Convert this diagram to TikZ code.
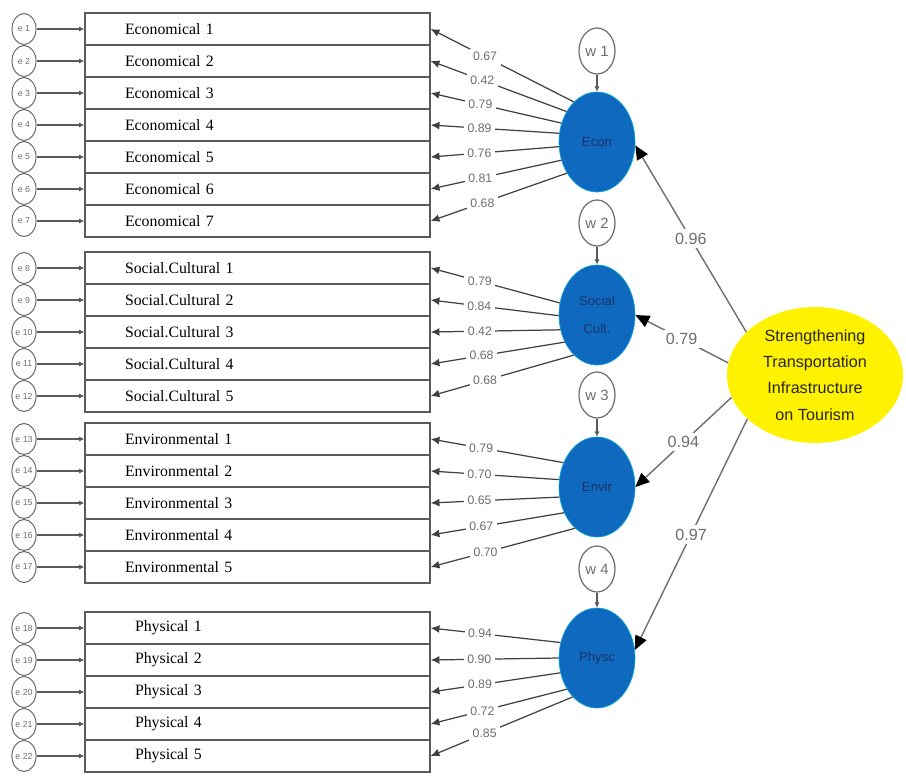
\documentclass[tikz,border=0pt]{standalone}
\usepackage{fontspec}
\setmainfont{Liberation Serif}
\newfontfamily\labfont{Liberation Sans}
\usepackage{tikz}
\usetikzlibrary{arrows.meta,positioning,shapes.geometric}
\definecolor{latblue}{RGB}{15,105,190}
\definecolor{latyellow}{RGB}{255,242,0}
\definecolor{latnavy}{RGB}{25,50,105}
\definecolor{edgegray}{RGB}{90,90,90}
\definecolor{labgray}{RGB}{110,110,110}

\begin{document}
\begin{tikzpicture}[x=0.02cm,y=-0.02cm,
	itembox/.style={draw=edgegray,line width=0.8pt,rectangle,minimum height=0.64cm,inner xsep=0.8cm,text width=5.3cm,align=left,font=\fontsize{9}{10}\selectfont},
	errnode/.style={draw=labgray,line width=0.6pt,ellipse,minimum width=0.48cm,minimum height=0.62cm,inner sep=0pt,text=labgray,font=\labfont\fontsize{5}{6}\selectfont},
	wnode/.style={draw=labgray,line width=0.7pt,ellipse,minimum width=0.72cm,minimum height=0.92cm,inner sep=0pt,text=labgray,font=\labfont\fontsize{8.5}{10}\selectfont},
	latent/.style={ellipse,fill=latblue,draw=latblue!60!cyan,minimum width=1.52cm,minimum height=2cm,inner sep=0pt,align=center,text=latnavy,font=\labfont\fontsize{7.5}{9}\selectfont},
	mainlat/.style={ellipse,fill=latyellow,minimum width=3.52cm,minimum height=2.72cm,inner sep=0pt,align=center,text=black!85,font=\labfont\fontsize{9.2}{15}\selectfont},
	errarrow/.style={draw=edgegray,line width=0.8pt,-{Latex[length=3pt,width=3pt]}},
	warrow/.style={draw=edgegray,line width=0.7pt,-{Latex[length=3pt,width=3pt]}},
	loadarrow/.style={draw=black!75,line width=0.7pt,-{Latex[length=5pt,width=4.5pt]}},
	loadlab/.style={pos=0.62,fill=white,inner sep=2pt,text=labgray,font=\labfont\fontsize{7}{8}\selectfont},
	patharrow/.style={draw=labgray,line width=0.8pt,-{Triangle[length=8pt,width=7pt,color=black]}},
	pathlab/.style={pos=0.5,fill=white,inner sep=2pt,text=labgray,font=\labfont\fontsize{9.2}{11}\selectfont}]
\useasboundingbox (0,0) rectangle (906,775);

% observed items and their errors
\foreach \i in {1,...,7}{
	\node[itembox] (eco\i) at (257.5,{32*\i-3}) {Economical \i};
	\node[errnode] (e\i) at (24,{32*\i-3}) {e \i};
	\draw[errarrow] (e\i) -- (eco\i.west);
}
\foreach \i [count=\n from 8] in {1,...,5}{
	\node[itembox] (soc\i) at (257.5,{236+32*\i}) {Social.Cultural \i};
	\node[errnode] (e\n) at (24,{236+32*\i}) {e \n};
	\draw[errarrow] (e\n) -- (soc\i.west);
}
\foreach \i [count=\n from 13] in {1,...,5}{
	\node[itembox] (env\i) at (257.5,{407+32*\i}) {Environmental \i};
	\node[errnode] (e\n) at (24,{407+32*\i}) {e \n};
	\draw[errarrow] (e\n) -- (env\i.west);
}
\foreach \i [count=\n from 18] in {1,...,5}{
	\node[itembox,inner xsep=1cm,text width=4.9cm] (phy\i) at (257.5,{596+32*\i}) {Physical \i};
	\node[errnode] (e\n) at (24,{596+32*\i}) {e \n};
	\draw[errarrow] (e\n) -- (phy\i.west);
}

% latent factors
\node[latent] (econ) at (597,142) {Econ};
\node[latent] (socc) at (597,315) {Social\\[7pt]Cult.};
\node[latent] (envr) at (597,487) {Envir};
\node[latent] (phys) at (597,658) {Physc};
\node[mainlat] (sti) at (815,375) {Strengthening\\Transportation\\Infrastructure\\on Tourism};

% disturbances
\node[wnode] (w1) at (597,51) {w 1};
\node[wnode] (w2) at (597,223) {w 2};
\node[wnode] (w3) at (597,395) {w 3};
\node[wnode] (w4) at (597,569) {w 4};
\draw[warrow] (w1) -- (econ);
\draw[warrow] (w2) -- (socc);
\draw[warrow] (w3) -- (envr);
\draw[warrow] (w4) -- (phys);

% loadings
\foreach \a/\i/\v in {120/1/0.67,135/2/0.42,152/3/0.79,167/4/0.89,187/5/0.76,207/6/0.81,226/7/0.68}
	\draw[loadarrow] (econ.\a) -- node[loadlab] {\v} (eco\i.east);
\foreach \a/\i/\v in {162/1/0.79,181/2/0.84,202/3/0.42,220/4/0.68,240/5/0.68}
	\draw[loadarrow] (socc.\a) -- node[loadlab] {\v} (soc\i.east);
\foreach \a/\i/\v in {144/1/0.79,169/2/0.70,195/3/0.65,218/4/0.67,242/5/0.70}
	\draw[loadarrow] (envr.\a) -- node[loadlab] {\v} (env\i.east);
\foreach \a/\i/\v in {157/1/0.94,180/2/0.90,202/3/0.89,226/4/0.72,238/5/0.85}
	\draw[loadarrow] (phys.\a) -- node[loadlab] {\v} (phy\i.east);

% second order paths
\draw[patharrow] (sti.148) -- node[pathlab] {0.96} (econ.-5);
\draw[patharrow] (sti.172) -- node[pathlab] {0.79} (socc.east);
\draw[patharrow] (sti.195) -- node[pathlab] {0.94} (envr.east);
\draw[patharrow] (sti.213) -- node[pathlab] {0.97} (phys.12);
\end{tikzpicture}
\end{document}
